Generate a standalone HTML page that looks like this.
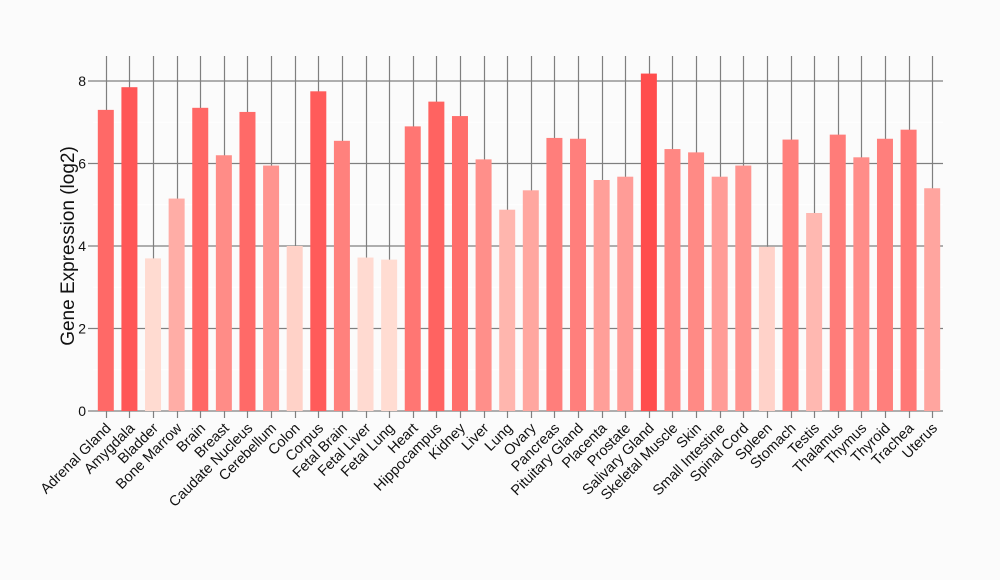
<!DOCTYPE html>
<html><head><meta charset="utf-8"><style>
html,body{margin:0;padding:0;background:#fbfbfb;}
svg{display:block;font-family:"Liberation Sans",Arial,sans-serif;}
</style></head><body>
<svg id="chart" width="1000" height="580">
<rect width="1000" height="580" fill="#fbfbfb"/>
<g id="grid"></g>
<g id="bars"></g>
<g id="axes"></g>
<text x="0" y="0" transform="translate(74,246) rotate(-90)" text-anchor="middle" font-size="19" fill="#111">Gene Expression (log2)</text>
</svg>
<script>
const categories = ["Adrenal Gland","Amygdala","Bladder","Bone Marrow","Brain","Breast","Caudate Nucleus","Cerebellum","Colon","Corpus","Fetal Brain","Fetal Liver","Fetal Lung","Heart","Hippocampus","Kidney","Liver","Lung","Ovary","Pancreas","Pituitary Gland","Placenta","Prostate","Salivary Gland","Skeletal Muscle","Skin","Small Intestine","Spinal Cord","Spleen","Stomach","Testis","Thalamus","Thymus","Thyroid","Trachea","Uterus"];
const values = [7.3,7.85,3.7,5.15,7.35,6.2,7.25,5.95,4.0,7.75,6.55,3.72,3.67,6.9,7.5,7.15,6.1,4.88,5.35,6.62,6.6,5.6,5.68,8.18,6.35,6.27,5.68,5.95,3.98,6.58,4.8,6.7,6.15,6.6,6.82,5.4];
const yTicks = [0,2,4,6,8];
const yMinor = [1,3,5,7];

const NS="http://www.w3.org/2000/svg";
const L=93,R=943,T=56,B=411;
const yMax=8;
function y(v){return B-(v/yMax)*(B-81);}
const band=(R-L)/categories.length;
function xc(i){return L+(i+0.5)*band+1;}
const bw=16;
const vmin=Math.min(...values), vmax=Math.max(...values);
function color(v){const t=(v-vmin)/(vmax-vmin||1);const g=Math.round(220-t*143),b=Math.round(210-t*133);return `rgb(255,${g},${b})`;}
function mk(tag,attrs,parent){const e=document.createElementNS(NS,tag);for(const k in attrs)e.setAttribute(k,attrs[k]);parent.appendChild(e);return e;}
const grid=document.getElementById('grid'),bars=document.getElementById('bars'),axes=document.getElementById('axes');

yMinor.forEach(v=>{const l=mk('line',{x1:L,x2:R,y1:y(v),y2:y(v),stroke:'#ffffff','stroke-width':1},grid);

});
yTicks.forEach(v=>{const l=mk('line',{x1:L-5,x2:R,y1:y(v),y2:y(v),stroke:'#7f7f7f','stroke-width':1.2},grid);


const t=mk('text',{x:L-7,y:y(v)+5,'text-anchor':'end','font-size':14,fill:'#111'},axes);
t.textContent=v;

});
categories.forEach((c,i)=>{const x=Math.round(xc(i))+0.5;
const l=mk('line',{x1:x,x2:x,y1:T,y2:B+7,stroke:'#7f7f7f','stroke-width':1.2},grid);


const r=mk('rect',{x:xc(i)-bw/2,y:y(values[i]),width:bw,height:B-y(values[i]),fill:color(values[i])},bars);


const t=mk('text',{x:0,y:0,transform:`translate(${xc(i)+6},${B+18}) rotate(-45)`,'text-anchor':'end','font-size':14.5,fill:'#111'},axes);
t.textContent=c;

});
</script>
</body></html>
